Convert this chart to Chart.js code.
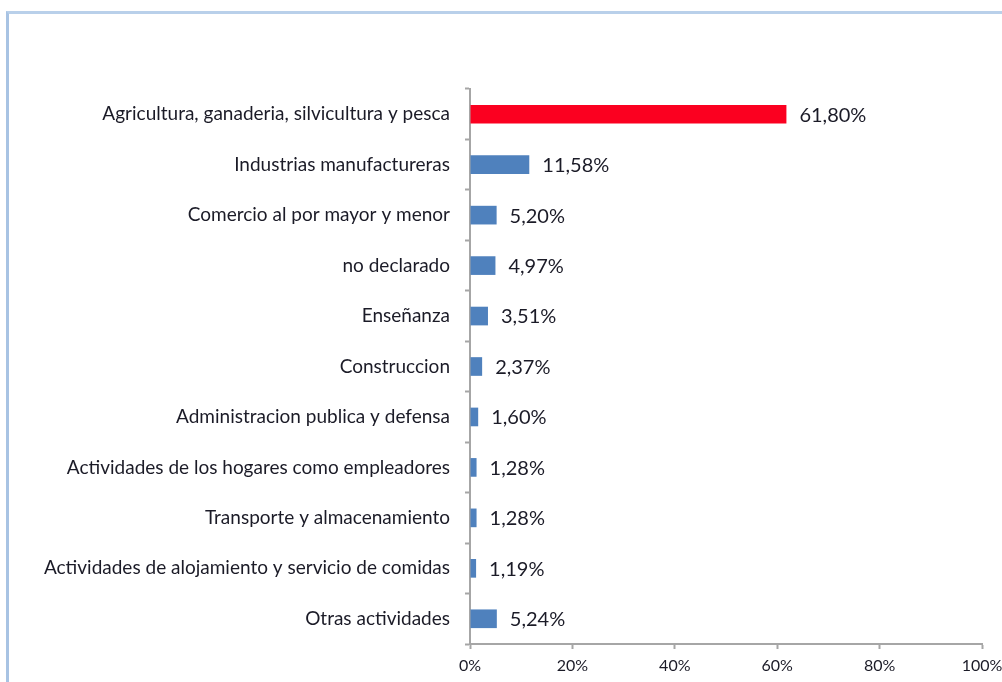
<!DOCTYPE html>
<html>
<head>
<meta charset="utf-8">
<script src="https://cdn.jsdelivr.net/npm/chart.js@4.4.0/dist/chart.umd.min.js"></script>
<style>
    html, body { margin: 0; padding: 0; background: #fff; }
    #frame {
        position: absolute; left: 6px; top: 11px; width: 996px; height: 671px;
        border-left: 3px solid #a8c3e3; border-top: 3px solid #b9d0ea;
    }
    #wrap { position: absolute; left: 0; top: 0; width: 1002px; height: 682px; }
</style>
</head>
<body>
<div id="frame"></div>
<div id="wrap"><canvas id="chart" width="1002" height="682"></canvas></div>
<script>
// sectors and their share of employment
const categories = [
    'Agricultura, ganaderia, silvicultura y pesca',
    'Industrias manufactureras',
    'Comercio al por mayor y menor',
    'no declarado',
    'Enseñanza',
    'Construccion',
    'Administracion publica y defensa',
    'Actividades de los hogares como empleadores',
    'Transporte y almacenamiento',
    'Actividades de alojamiento y servicio de comidas',
    'Otras actividades'
];
const shares = [61.80, 11.58, 5.20, 4.97, 3.51, 2.37, 1.60, 1.28, 1.28, 1.19, 5.24];
const shareLabels = ['61,80%', '11,58%', '5,20%', '4,97%', '3,51%', '2,37%', '1,60%', '1,28%', '1,28%', '1,19%', '5,24%'];
const xTicks = [0, 20, 40, 60, 80, 100];

const FONT = "Lato, 'Open Sans', sans-serif";
const TEXT = '#1b1b27';

// writes the value next to each bar
const valueLabels = {
    id: 'valueLabels',
    afterDatasetsDraw(chart) {
        const ctx = chart.ctx;
        const meta = chart.getDatasetMeta(0);
        ctx.save();
        ctx.font = '20px ' + FONT;
        ctx.fillStyle = TEXT;
        ctx.textAlign = 'left';
        ctx.textBaseline = 'middle';
        meta.data.forEach((bar, i) => {
            ctx.fillText(shareLabels[i], bar.x + 13, bar.y + 1);
        });
        ctx.restore();
    }
};

const ctx = document.getElementById('chart').getContext('2d');
new Chart(ctx, {
    type: 'bar',
    data: {
        labels: categories,
        datasets: [{
            data: shares,
            backgroundColor: shares.map((v, i) => i === 0 ? '#fb0020' : '#4f81bd'),
            barPercentage: 0.37,
            categoryPercentage: 1.0
        }]
    },
    options: {
        indexAxis: 'y',
        responsive: false,
        animation: false,
        layout: { padding: { top: 89, right: 20, left: 0, bottom: 0 } },
        plugins: {
            legend: { display: false },
            tooltip: { enabled: false }
        },
        scales: {
            x: {
                min: 0,
                max: 100,
                afterBuildTicks: (scale) => { scale.ticks = xTicks.map(v => ({ value: v })); },
                afterFit: (scale) => {
                    scale.height = 38;
                    scale.paddingLeft = 0;
                    scale.paddingRight = 0;
                },
                grid: { drawOnChartArea: false, tickLength: 5, color: '#a6a6a6', tickWidth: 2 },
                border: { color: '#a6a6a6', width: 2 },
                ticks: {
                    padding: 7,
                    color: TEXT,
                    font: { family: FONT, size: 16 },
                    callback: (v) => v + '%'
                }
            },
            y: {
                afterFit: (scale) => { scale.width = 470; },
                grid: { drawOnChartArea: false, tickLength: 5, color: '#a6a6a6', tickWidth: 2 },
                border: { color: '#a6a6a6', width: 2 },
                ticks: {
                    padding: 15,
                    color: TEXT,
                    font: { family: FONT, size: 19 }
                }
            }
        }
    },
    plugins: [valueLabels]
});
</script>
</body>
</html>
